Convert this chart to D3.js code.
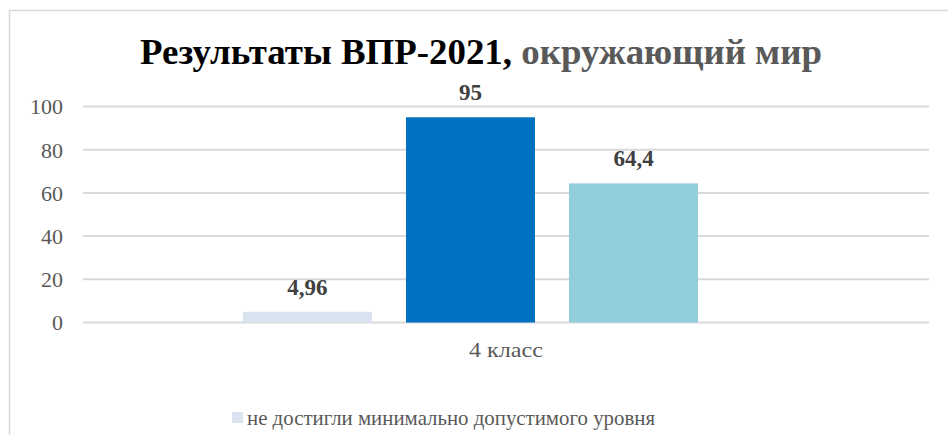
<!DOCTYPE html>
<html>
<head>
<meta charset="utf-8">
<script src="https://cdn.jsdelivr.net/npm/d3@7"></script>
<style>
  html, body { margin: 0; padding: 0; background: #fff; }
  svg { display: block; }
  svg text { font-family: "Liberation Serif", "Times New Roman", serif; }
</style>
</head>
<body>
<svg id="chart" width="948" height="435"></svg>
<script>
// Data
const categories = ["4 класс"];
const seriesKeys = ["s1", "s2", "s3"];
const seriesValues = [4.96, 95, 64.4];
const valueLabels = ["4,96", "95", "64,4"];
const seriesColors = ["#DAE3F0", "#0070C0", "#92CDDC"];
const legendLabels = ["не достигли минимально допустимого уровня"];
const yTicks = [0, 20, 40, 60, 80, 100];

const svg = d3.select("#chart");

// Chart frame
svg.append("path")
  .attr("d", "M9.5,435 V10.5 H948")
  .attr("fill", "none")
  .attr("stroke", "#D9D9D9")
  .attr("stroke-width", 1.5);

// Fit a text element to a given width
function fitWidth(sel, w) {
  sel.each(function () {
    if (this.getComputedTextLength() > 0) {
      d3.select(this).attr("textLength", w).attr("lengthAdjust", "spacingAndGlyphs");
    }
  });
}

// Title
const title = svg.append("text")
  .attr("x", 481).attr("y", 64)
  .attr("text-anchor", "middle")
  .style("font-weight", "bold")
  .style("font-size", "36px");
title.append("tspan").attr("fill", "#000").text("Результаты ВПР-2021, ");
title.append("tspan").attr("fill", "#595959").text("окружающий мир");
fitWidth(title, 682);

// Plot area
const plot = { left: 83, right: 929, top: 106.5, bottom: 322.5 };

const y = d3.scaleLinear().domain([0, 100]).range([plot.bottom, plot.top]);
const x0 = d3.scaleBand().domain(categories).range([plot.left, plot.right]);
const x1 = d3.scaleBand().domain(seriesKeys).range([160, 615]).paddingInner(0.2086);

// Gridlines
svg.append("g")
  .selectAll("line")
  .data(yTicks)
  .join("line")
  .attr("x1", plot.left).attr("x2", plot.right)
  .attr("y1", d => y(d)).attr("y2", d => y(d))
  .attr("stroke", "#D9D9D9")
  .attr("stroke-width", 2);

// Y axis labels
const yAxis = svg.append("g")
  .attr("transform", `translate(${plot.left - 20},0)`)
  .call(d3.axisLeft(y).tickValues(yTicks).tickSize(0).tickPadding(0).tickFormat(d3.format("d")))
  .attr("font-family", null);
yAxis.select(".domain").remove();
yAxis.selectAll("text")
  .style("font-size", "22px")
  .attr("fill", "#595959")
  .attr("dy", "0.34em");

// Bars
const rows = seriesKeys.map((k, i) => ({ key: k, value: seriesValues[i], label: valueLabels[i], color: seriesColors[i] }));
const group = svg.append("g").attr("transform", `translate(${x0(categories[0])},0)`);
group.selectAll("rect")
  .data(rows)
  .join("rect")
  .attr("x", d => x1(d.key))
  .attr("width", x1.bandwidth())
  .attr("y", d => y(d.value))
  .attr("height", d => y(0) - y(d.value))
  .attr("fill", d => d.color);

// Value labels
group.selectAll("text")
  .data(rows)
  .join("text")
  .attr("x", d => x1(d.key) + x1.bandwidth() / 2)
  .attr("y", d => y(d.value) - 17)
  .attr("text-anchor", "middle")
  .style("font-weight", "bold")
  .style("font-size", "23px")
  .attr("fill", "#404040")
  .text(d => d.label);

// Category axis label
const xAxis = svg.append("g")
  .attr("transform", `translate(0,${plot.bottom})`)
  .call(d3.axisBottom(x0).tickSize(0).tickPadding(0))
  .attr("font-family", null);
xAxis.select(".domain").remove();
xAxis.selectAll("text")
  .style("font-size", "22px")
  .attr("fill", "#595959")
  .attr("dy", "1.55em");
fitWidth(xAxis.selectAll("text"), 74);

// Legend
const legend = svg.append("g").attr("transform", "translate(232,412)");
legend.append("rect")
  .attr("width", 11).attr("height", 11)
  .attr("fill", seriesColors[0]);
legend.append("text")
  .attr("x", 15).attr("y", 13)
  .style("font-size", "22px")
  .attr("fill", "#595959")
  .text(legendLabels[0])
  .call(fitWidth, 408);
</script>
</body>
</html>
